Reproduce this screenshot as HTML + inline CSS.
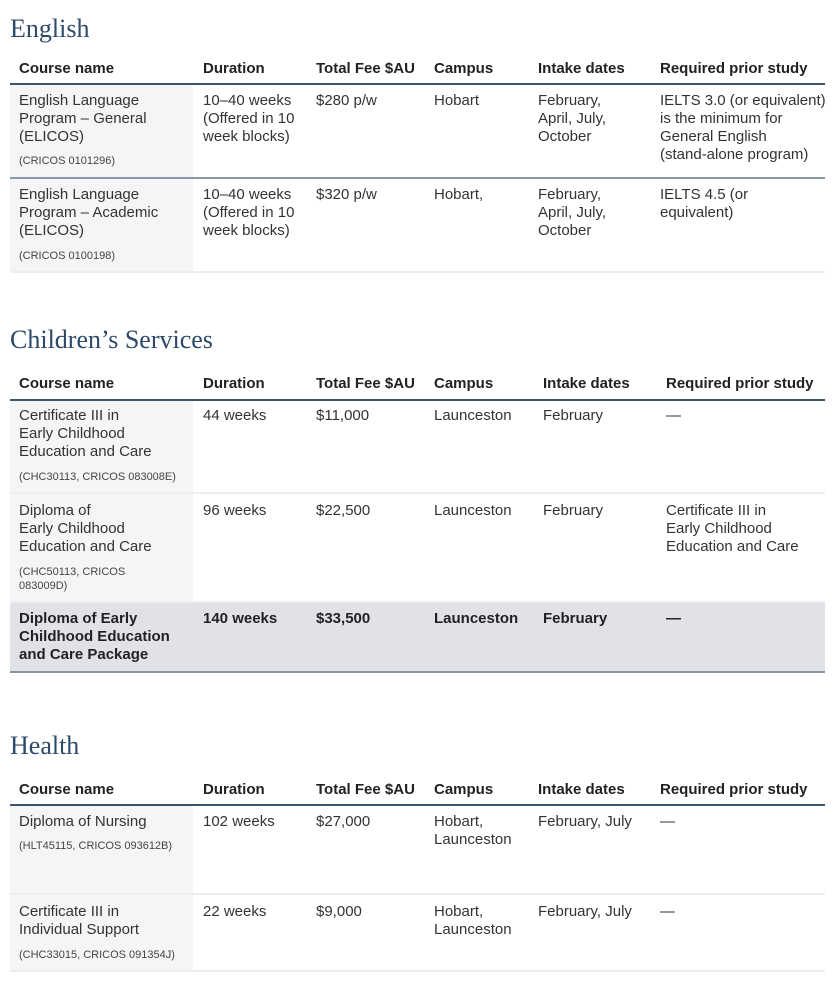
<!DOCTYPE html>
<html><head><meta charset="utf-8"><style>
body{margin:0;width:834px;height:992px;background:#fff;position:relative;overflow:hidden;font-family:"Liberation Sans",sans-serif;color:#2b2b2b}
div{position:absolute;white-space:nowrap}
.h{font-family:"Liberation Serif",serif;font-size:26px;color:#2d4a6a;left:10px;line-height:30px}
.th{font-weight:bold;font-size:15px;line-height:18px;color:#222}
.t{font-size:15px;line-height:18px;color:#333}
.b{font-weight:bold;font-size:15px;line-height:18px;color:#222}
.s{font-size:11px;line-height:14px;color:#444}
.g{background:#f4f5f7;left:10px;width:183px}
.dl{left:10px;width:815px;height:2px;background:#3d5470}
.ll{left:10px;width:815px;height:2px;background:#eceef0}
</style></head><body>
<div class="h" style="top:14px">English</div>
<div class="g" style="top:85px;height:92px"></div>
<div class="g" style="top:179px;height:93px"></div>
<div class="th" style="top:60px;left:19px">Course name</div>
<div class="th" style="top:60px;left:203px">Duration</div>
<div class="th" style="top:60px;left:316px">Total Fee $AU</div>
<div class="th" style="top:60px;left:434px">Campus</div>
<div class="th" style="top:60px;left:538px">Intake dates</div>
<div class="th" style="top:60px;left:660px">Required prior study</div>
<div class="dl" style="top:83px"></div>
<div class="t" style="top:92px;left:19px">English Language<br>Program – General<br>(ELICOS)</div>
<div class="s" style="top:154px;left:19px">(CRICOS 0101296)</div>
<div class="t" style="top:92px;left:203px">10–40 weeks<br>(Offered in 10<br>week blocks)</div>
<div class="t" style="top:92px;left:316px">$280 p/w</div>
<div class="t" style="top:92px;left:434px">Hobart</div>
<div class="t" style="top:92px;left:538px">February,<br>April, July,<br>October</div>
<div class="t" style="top:92px;left:660px">IELTS 3.0 (or equivalent)<br>is the minimum for<br>General English<br>(stand-alone program)</div>
<div class="dl" style="top:177px;background:#8a98a8"></div>
<div class="t" style="top:186px;left:19px">English Language<br>Program – Academic<br>(ELICOS)</div>
<div class="s" style="top:249px;left:19px">(CRICOS 0100198)</div>
<div class="t" style="top:186px;left:203px">10–40 weeks<br>(Offered in 10<br>week blocks)</div>
<div class="t" style="top:186px;left:316px">$320 p/w</div>
<div class="t" style="top:186px;left:434px">Hobart,</div>
<div class="t" style="top:186px;left:538px">February,<br>April, July,<br>October</div>
<div class="t" style="top:186px;left:660px">IELTS 4.5 (or<br>equivalent)</div>
<div class="ll" style="top:271px"></div>

<div class="h" style="top:325px">Children’s Services</div>
<div class="g" style="top:401px;height:91px"></div>
<div class="g" style="top:494px;height:107px"></div>
<div style="top:603px;left:10px;width:815px;height:69px;background:#e0e2e7"></div>
<div class="th" style="top:375px;left:19px">Course name</div>
<div class="th" style="top:375px;left:203px">Duration</div>
<div class="th" style="top:375px;left:316px">Total Fee $AU</div>
<div class="th" style="top:375px;left:434px">Campus</div>
<div class="th" style="top:375px;left:543px">Intake dates</div>
<div class="th" style="top:375px;left:666px">Required prior study</div>
<div class="dl" style="top:399px"></div>
<div class="t" style="top:407px;left:19px">Certificate III in<br>Early Childhood<br>Education and Care</div>
<div class="s" style="top:470px;left:19px">(CHC30113, CRICOS 083008E)</div>
<div class="t" style="top:407px;left:203px">44 weeks</div>
<div class="t" style="top:407px;left:316px">$11,000</div>
<div class="t" style="top:407px;left:434px">Launceston</div>
<div class="t" style="top:407px;left:543px">February</div>
<div class="t" style="top:407px;left:666px">—</div>
<div class="ll" style="top:492px"></div>
<div class="t" style="top:502px;left:19px">Diploma of<br>Early Childhood<br>Education and Care</div>
<div class="s" style="top:565px;left:19px">(CHC50113, CRICOS<br>083009D)</div>
<div class="t" style="top:502px;left:203px">96 weeks</div>
<div class="t" style="top:502px;left:316px">$22,500</div>
<div class="t" style="top:502px;left:434px">Launceston</div>
<div class="t" style="top:502px;left:543px">February</div>
<div class="t" style="top:502px;left:666px">Certificate III in<br>Early Childhood<br>Education and Care</div>
<div class="ll" style="top:601px"></div>
<div class="b" style="top:610px;left:19px">Diploma of Early<br>Childhood Education<br>and Care Package</div>
<div class="b" style="top:610px;left:203px">140 weeks</div>
<div class="b" style="top:610px;left:316px">$33,500</div>
<div class="b" style="top:610px;left:434px">Launceston</div>
<div class="b" style="top:610px;left:543px">February</div>
<div class="b" style="top:610px;left:666px">—</div>
<div class="dl" style="top:671px;background:#8a95a3"></div>

<div class="h" style="top:731px">Health</div>
<div class="g" style="top:806px;height:87px"></div>
<div class="g" style="top:895px;height:75px"></div>
<div class="th" style="top:781px;left:19px">Course name</div>
<div class="th" style="top:781px;left:203px">Duration</div>
<div class="th" style="top:781px;left:316px">Total Fee $AU</div>
<div class="th" style="top:781px;left:434px">Campus</div>
<div class="th" style="top:781px;left:538px">Intake dates</div>
<div class="th" style="top:781px;left:660px">Required prior study</div>
<div class="dl" style="top:804px"></div>
<div class="t" style="top:813px;left:19px">Diploma of Nursing</div>
<div class="s" style="top:839px;left:19px">(HLT45115, CRICOS 093612B)</div>
<div class="t" style="top:813px;left:203px">102 weeks</div>
<div class="t" style="top:813px;left:316px">$27,000</div>
<div class="t" style="top:813px;left:434px">Hobart,<br>Launceston</div>
<div class="t" style="top:813px;left:538px">February, July</div>
<div class="t" style="top:813px;left:660px">—</div>
<div class="ll" style="top:893px"></div>
<div class="t" style="top:903px;left:19px">Certificate III in<br>Individual Support</div>
<div class="s" style="top:948px;left:19px">(CHC33015, CRICOS 091354J)</div>
<div class="t" style="top:903px;left:203px">22 weeks</div>
<div class="t" style="top:903px;left:316px">$9,000</div>
<div class="t" style="top:903px;left:434px">Hobart,<br>Launceston</div>
<div class="t" style="top:903px;left:538px">February, July</div>
<div class="t" style="top:903px;left:660px">—</div>
<div class="ll" style="top:970px"></div>
</body></html>
